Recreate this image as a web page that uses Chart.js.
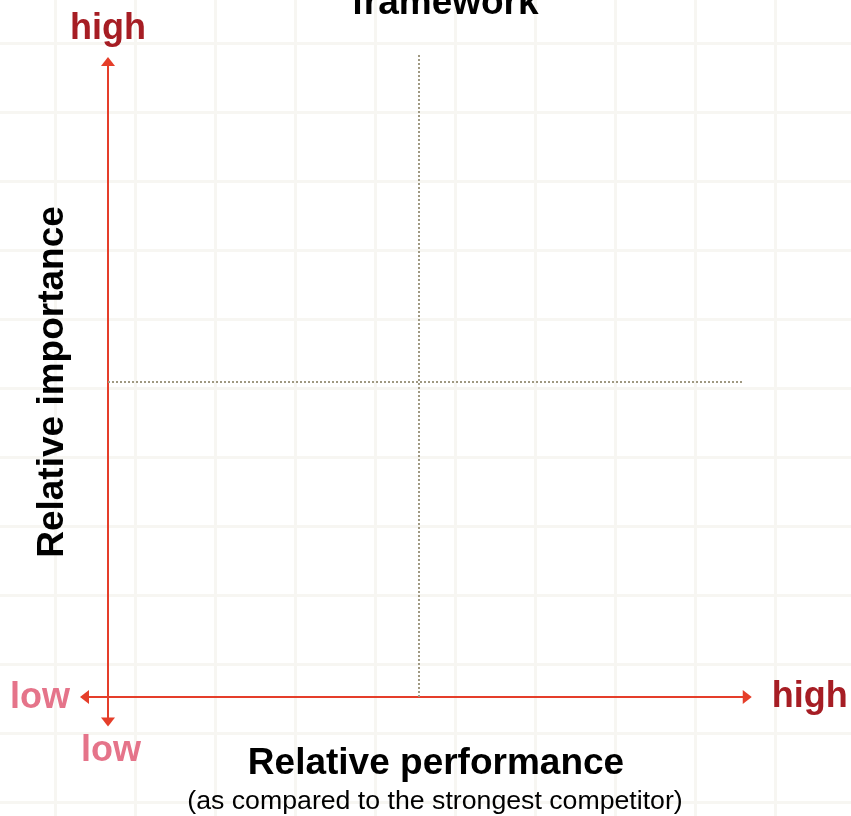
<!DOCTYPE html>
<html>
<head>
<meta charset="utf-8">
<script src="https://cdn.jsdelivr.net/npm/chart.js@4/dist/chart.umd.min.js"></script>
<style>
  html, body { margin: 0; padding: 0; }
  body {
    width: 851px; height: 816px; overflow: hidden;
    background-color: #ffffff;
    background-image:
      repeating-linear-gradient(90deg, transparent 0 54px, #f7f6f2 54px 57px, transparent 57px 80px),
      repeating-linear-gradient(180deg, transparent 0 42px, #f7f6f2 42px 45px, transparent 45px 69px);
  }
  #wrap { position: absolute; left: 0; top: 0; width: 851px; height: 816px; }
</style>
</head>
<body>
<div id="wrap"><canvas id="chart" width="851" height="816"></canvas></div>
<script>
// Quadrant framework: relative performance (x) vs relative importance (y)
const perfLabels = ['low', 'high'];
const impLabels = ['low', 'high'];
const xTitle = 'Relative performance';
const xSubtitle = '(as compared to the strongest competitor)';
const yTitle = 'Relative importance';
const chartTitle = 'framework';

// axis extents in data units (low end, high end)
const perfAxisRange = [-0.45, 10.35];
const impAxisRange = [-0.47, 10.16];
// quadrant split points
const perfSplit = 5;
const impSplit = 5;
// extent of the dotted quadrant dividers
const perfDividerEnd = 10.21;
const impDividerEnd = 10.19;

const RED = '#e53e2a';
const DARK_RED = '#a61d24';
const PINK = '#e5748a';
const DOT = '#a09982';

const lineSet = (data, color, width, dash) => ({
  type: 'line', data, showLine: true, borderColor: color, borderWidth: width,
  borderDash: dash || [], pointRadius: 0, fill: false, tension: 0, borderCapStyle: 'butt'
});

const datasets = [
  lineSet([{ x: perfSplit, y: 0 }, { x: perfSplit, y: impDividerEnd }], DOT, 2, [2, 2]),
  lineSet([{ x: 0, y: impSplit }, { x: perfDividerEnd, y: impSplit }], DOT, 2, [2, 2]),
  lineSet([{ x: perfAxisRange[0] + 0.12, y: 0 }, { x: perfAxisRange[1] - 0.12, y: 0 }], RED, 2),
  lineSet([{ x: 0, y: impAxisRange[0] + 0.1 }, { x: 0, y: impAxisRange[1] - 0.1 }], RED, 2)
];

// arrowheads and all captions, positioned from the scales
const decorations = {
  id: 'decorations',
  afterDatasetsDraw(chart) {
    const { ctx } = chart;
    const xs = chart.scales.x, ys = chart.scales.y;
    const x0 = xs.getPixelForValue(0), y0 = ys.getPixelForValue(0);
    const L = 9, W = 7;
    ctx.save();
    ctx.fillStyle = RED;
    const tri = (pts) => {
      ctx.beginPath();
      ctx.moveTo(pts[0][0], pts[0][1]);
      ctx.lineTo(pts[1][0], pts[1][1]);
      ctx.lineTo(pts[2][0], pts[2][1]);
      ctx.closePath();
      ctx.fill();
    };
    const xl = xs.getPixelForValue(perfAxisRange[0]);
    const xr = xs.getPixelForValue(perfAxisRange[1]);
    const yb = ys.getPixelForValue(impAxisRange[0]);
    const yt = ys.getPixelForValue(impAxisRange[1]);
    tri([[xl, y0], [xl + L, y0 - W], [xl + L, y0 + W]]);
    tri([[xr, y0], [xr - L, y0 - W], [xr - L, y0 + W]]);
    tri([[x0, yt], [x0 - W, yt + L], [x0 + W, yt + L]]);
    tri([[x0, yb], [x0 - W, yb - L], [x0 + W, yb - L]]);

    const bold = 'bold 36px "Liberation Sans", Arial, sans-serif';
    const boldTitle = 'bold 37px "Liberation Sans", Arial, sans-serif';
    ctx.font = bold;
    ctx.textBaseline = 'alphabetic';

    // ends of the performance axis
    ctx.fillStyle = PINK;
    ctx.textAlign = 'right';
    ctx.fillText(perfLabels[0], xl - 10, y0 + 11);
    ctx.fillStyle = DARK_RED;
    ctx.textAlign = 'left';
    ctx.fillText(perfLabels[1], xr + 20, y0 + 10);

    // ends of the importance axis
    ctx.textAlign = 'center';
    ctx.fillStyle = DARK_RED;
    ctx.fillText(impLabels[1], x0, yt - 18);
    ctx.fillStyle = PINK;
    ctx.fillText(impLabels[0], x0 + 3, yb + 34);

    // axis titles
    ctx.fillStyle = '#000000';
    ctx.font = boldTitle;
    ctx.fillText(xTitle, x0 + 328, y0 + 77);
    ctx.font = '26.7px "Liberation Sans", Arial, sans-serif';
    ctx.fillText(xSubtitle, x0 + 327, y0 + 112);

    ctx.font = boldTitle;
    ctx.save();
    ctx.translate(x0 - 45, ys.getPixelForValue(impSplit));
    ctx.rotate(-Math.PI / 2);
    ctx.fillText(yTitle, 0, 0);
    ctx.restore();

    // chart title, only its last line falls inside the frame
    ctx.fillText(chartTitle, xs.getPixelForValue(perfSplit) + 26, 14);
    ctx.restore();
  }
};

new Chart(document.getElementById('chart'), {
  type: 'scatter',
  data: { datasets },
  options: {
    responsive: false,
    animation: false,
    layout: { padding: { left: 70.68, right: 89.9, top: 48.1, bottom: 81.2 } },
    scales: {
      x: { type: 'linear', min: -0.6, max: 10.5, display: false },
      y: { type: 'linear', min: -0.6, max: 10.3, display: false }
    },
    plugins: { legend: { display: false }, tooltip: { enabled: false }, title: { display: false } }
  },
  plugins: [decorations]
});
</script>
</body>
</html>
